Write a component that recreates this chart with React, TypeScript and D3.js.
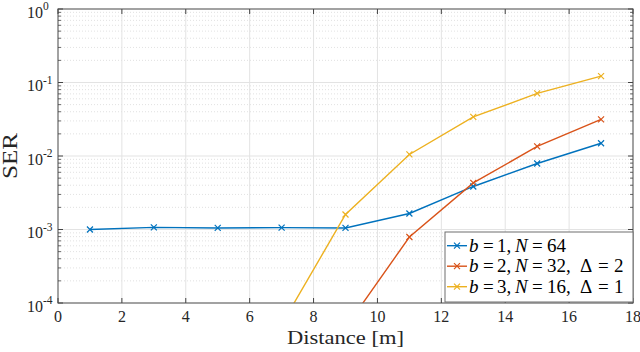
import React from "react";
import * as d3 from "d3";

const xTicks = [0, 2, 4, 6, 8, 10, 12, 14, 16, 18];
const yDecades = [-4, -3, -2, -1, 0];

const distB1 = [1, 3, 5, 7, 9, 11, 13, 15, 17];
const serB1 = [1.0e-3, 1.07e-3, 1.05e-3, 1.06e-3, 1.05e-3, 1.65e-3, 3.85e-3, 7.9e-3, 1.49e-2];

const distB2 = [9, 11, 13, 15, 17];
const serB2 = [4.6e-5, 7.9e-4, 4.3e-3, 1.35e-2, 3.15e-2];

const distB3 = [7, 9, 11, 13, 15, 17];
const serB3 = [5.1e-5, 1.6e-3, 1.05e-2, 3.4e-2, 7.1e-2, 0.122];

const colors = ["#0072BD", "#D95319", "#EDB120"];
const legendB = ["1", "2", "3"];
const legendN = ["64", "32", "16"];
const legendDelta = ["", "2", "1"];

const W = 640, H = 352;
const L = 58, R = 633, T = 9, B = 303;
const FONT = '"Liberation Serif", "Times New Roman", serif';
const fs = { fontFamily: FONT };

export default function App() {
  const x = d3.scaleLinear().domain([0, 18]).range([L, R]);
  const y = d3.scaleLog().domain([1e-4, 1]).range([B, T]);
  const line = d3.line<[number, number]>().x(d => x(d[0])).y(d => y(d[1]));

  const series = [
    { d: distB1, v: serB1, c: colors[0] },
    { d: distB2, v: serB2, c: colors[1] },
    { d: distB3, v: serB3, c: colors[2] },
  ];

  const minor: number[] = [];
  for (let k = -4; k < 0; k++) for (let m = 2; m <= 9; m++) minor.push(m * Math.pow(10, k));

  const cross = (cx: number, cy: number, c: string, key: string) => (
    <path key={key} d={`M${cx - 3},${cy - 3}L${cx + 3},${cy + 3}M${cx - 3},${cy + 3}L${cx + 3},${cy - 3}`} stroke={c} strokeWidth={1.2} fill="none" />
  );

  return (
    <svg width={W} height={H} style={{ position: "absolute", left: 0, top: 0, background: "#fff", fontFamily: FONT }}>
      <defs>
        <clipPath id="plotclip"><rect x={L} y={T} width={R - L} height={B - T} /></clipPath>
      </defs>
      <rect x={L} y={T} width={R - L} height={B - T} fill="#fff" />
      {minor.map((v, i) => (
        <line key={"mg" + i} x1={L} x2={R} y1={y(v)} y2={y(v)} stroke="#d4d4d4" strokeWidth={0.7} strokeDasharray="1,2" />
      ))}
      {yDecades.map(k => (
        <line key={"yg" + k} x1={L} x2={R} y1={y(Math.pow(10, k))} y2={y(Math.pow(10, k))} stroke="#e3e3e3" strokeWidth={1} />
      ))}
      {xTicks.map(t => (
        <line key={"xg" + t} x1={x(t)} x2={x(t)} y1={T} y2={B} stroke="#e3e3e3" strokeWidth={1} />
      ))}
      <g clipPath="url(#plotclip)">
        {series.map((s, i) => (
          <path key={"l" + i} d={line(s.d.map((d, j) => [d, s.v[j]] as [number, number])) || ""} fill="none" stroke={s.c} strokeWidth={1.4} />
        ))}
        {series.map((s, i) => s.d.map((d, j) => cross(x(d), y(s.v[j]), s.c, `m${i}-${j}`)))}
      </g>
      <rect x={L} y={T} width={R - L} height={B - T} fill="none" stroke="#6e6e6e" strokeWidth={1.2} />
      {xTicks.map(t => (
        <g key={"xt" + t}>
          <line x1={x(t)} x2={x(t)} y1={B} y2={B - 5} stroke="#444" />
          <line x1={x(t)} x2={x(t)} y1={T} y2={T + 5} stroke="#444" />
          <text x={x(t)} y={B + 19} textAnchor="middle" fontSize={16} fill="#262626" style={fs}>{t}</text>
        </g>
      ))}
      {yDecades.map(k => (
        <g key={"yt" + k}>
          <line x1={L} x2={L + 5} y1={y(Math.pow(10, k))} y2={y(Math.pow(10, k))} stroke="#444" />
          <line x1={R} x2={R - 5} y1={y(Math.pow(10, k))} y2={y(Math.pow(10, k))} stroke="#444" />
          <text x={27} y={y(Math.pow(10, k)) + 8.5} fontSize={16} fill="#262626" style={fs}>
            10<tspan dy={-7.5} fontSize={11.5}>{k === 0 ? "0" : "-" + Math.abs(k)}</tspan>
          </text>
        </g>
      ))}
      {minor.map((v, i) => (
        <g key={"ymt" + i}>
          <line x1={L} x2={L + 3} y1={y(v)} y2={y(v)} stroke="#444" strokeWidth={0.8} />
          <line x1={R} x2={R - 3} y1={y(v)} y2={y(v)} stroke="#444" strokeWidth={0.8} />
        </g>
      ))}
      <text x={345.5} y={344} textAnchor="middle" fontSize={19} fill="#262626" style={fs}
        textLength={117} lengthAdjust="spacingAndGlyphs">Distance [m]</text>
      <text transform={`translate(17,${(T + B) / 2}) rotate(-90)`} textAnchor="middle" fontSize={20} fill="#262626" style={fs}
        textLength={46} lengthAdjust="spacingAndGlyphs">SER</text>
      <rect x={445} y={232} width={188} height={70} fill="#fff" stroke="#6e6e6e" strokeWidth={1} />
      {colors.map((c, i) => {
        const ly = 245.7 + i * 20.5;
        const by = ly + 6;
        return (
          <g key={"lg" + i}>
            <line x1={447} x2={467} y1={ly} y2={ly} stroke={c} strokeWidth={1.4} />
            {cross(457, ly, c, "lc" + i)}
            <text y={by} fontSize={19} fill="#000" style={fs}>
              <tspan x={469} fontStyle="italic">b</tspan>
              <tspan x={483}>=</tspan>
              <tspan x={497}>{legendB[i]},</tspan>
              <tspan x={515} fontStyle="italic">N</tspan>
              <tspan x={532}>=</tspan>
              <tspan x={547}>{legendN[i]}{legendDelta[i] ? "," : ""}</tspan>
              {legendDelta[i] ? (
                <>
                  <tspan x={580}>Δ</tspan>
                  <tspan x={598}>=</tspan>
                  <tspan x={614}>{legendDelta[i]}</tspan>
                </>
              ) : null}
            </text>
          </g>
        );
      })}
    </svg>
  );
}
